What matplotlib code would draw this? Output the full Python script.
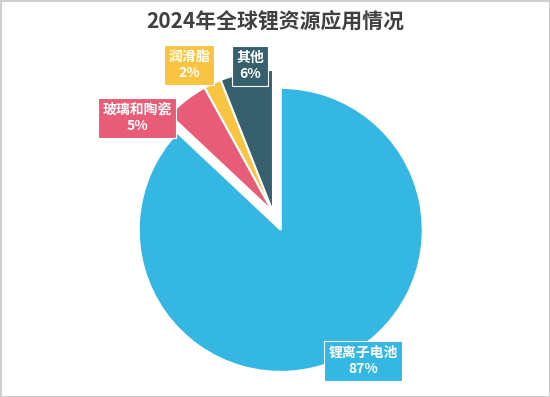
import matplotlib
matplotlib.use("Agg")
import matplotlib.pyplot as plt

plt.rcParams["font.family"] = ["Noto Sans CJK SC", "DejaVu Sans"]

# data
categories = ["锂离子电池", "玻璃和陶瓷", "润滑脂", "其他"]
shares = [87, 5, 2, 6]
colors = ["#35B7E3", "#E95C78", "#F9C441", "#37606F"]
explode = [19.5, 0, 0, 0]   # pixels, battery slice pulled out

# label box centres in pixel coords (x, y from top)
label_pos = [(363, 361), (137, 118), (189, 65), (250, 66)]

W, H = 550, 397
fig = plt.figure(figsize=(W / 100, H / 100), dpi=100,
                 edgecolor="#cfcfcf", linewidth=2)
ax = fig.add_axes([0, 0, 1, 1])

cx, cy, r = 273, H - 212, 142
ax.pie(shares, colors=colors, explode=explode, startangle=90,
       counterclock=False, radius=r, center=(cx, cy),
       wedgeprops=dict(edgecolor="white", linewidth=1.5))
ax.set_xlim(0, W)
ax.set_ylim(0, H)
ax.set_aspect("equal")
ax.axis("off")

for name, val, col, (lx, ly) in zip(categories, shares, colors, label_pos):
    ax.text(lx, H - ly, f"{name}\n{val}%", ha="center", va="center",
            fontsize=10, fontweight="bold", color="white", linespacing=1.25,
            bbox=dict(boxstyle="square,pad=0.3", facecolor=col,
                      edgecolor="white", linewidth=0.8))

fig.text(0.5, 1 - 22 / H, "2024年全球锂资源应用情况", ha="center", va="center",
         fontsize=15, fontweight="bold", color="#404040")

fig.savefig("out.png", dpi=100)
